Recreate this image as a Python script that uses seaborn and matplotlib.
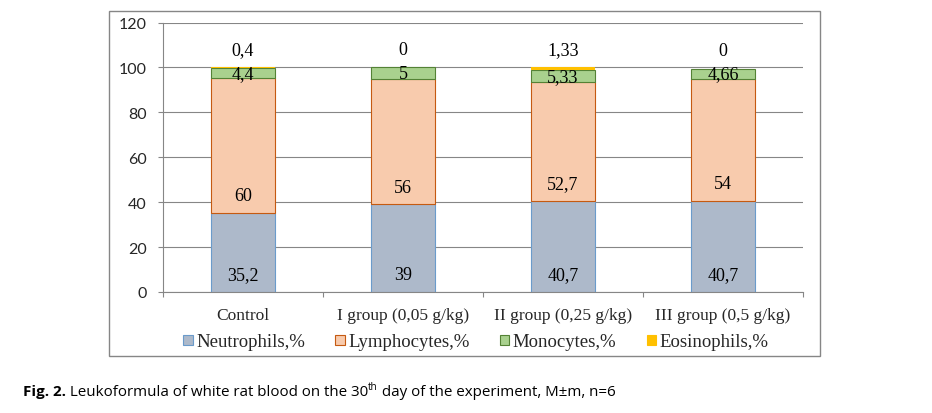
import matplotlib
matplotlib.use("Agg")
import matplotlib.pyplot as plt
import seaborn as sns
from matplotlib.patches import Patch, Rectangle

categories = ["Control", "I group (0,05 g/kg)", "II group (0,25 g/kg)", "III group (0,5 g/kg)"]
neutrophils = [35.2, 39, 40.7, 40.7]
lymphocytes = [60, 56, 52.7, 54]
monocytes = [4.4, 5, 5.33, 4.66]
eosinophils = [0.4, 0, 1.33, 0]
series_names = ["Neutrophils,%", "Lymphocytes,%", "Monocytes,%", "Eosinophils,%"]
y_ticks = [0, 20, 40, 60, 80, 100, 120]

sns.set_theme(style="white")
plt.rcParams["font.family"] = ["Liberation Serif", "DejaVu Serif"]

W, H = 932, 414
fig = plt.figure(figsize=(W / 100, H / 100), dpi=100)
ax = fig.add_axes([163 / W, 1 - 293 / H, 640 / W, (293 - 23.5) / H])

styles = [
    ("#ADB9CA", "#6A9BCB", 0.8),
    ("#F8CBAD", "#C55A11", 0.8),
    ("#A9D18E", "#548235", 0.8),
    ("#FFC000", "#FFC000", 0.0),
]
data = [neutrophils, lymphocytes, monocytes, eosinophils]

def fmt(v):
    return f"{v:g}".replace(".", ",")

bottoms = [0.0] * len(categories)
for vals, (fc, ec, lw) in zip(data, styles):
    n0 = len(ax.patches)
    sns.barplot(x=categories, y=vals, order=categories, color=fc, saturation=1,
                width=0.4, edgecolor=ec, linewidth=lw, errorbar=None, ax=ax)
    for p, b in zip(ax.patches[n0:], bottoms):
        p.set_y(b)
    bottoms = [b + v for b, v in zip(bottoms, vals)]

fs = 13
for i in range(4):
    ax.annotate(fmt(neutrophils[i]), xy=(i, 0), xytext=(0, 12.5), textcoords="offset points",
                ha="center", va="center", fontsize=fs, color="black")
    ax.annotate(fmt(lymphocytes[i]), xy=(i, neutrophils[i]), xytext=(0, 12.5), textcoords="offset points",
                ha="center", va="center", fontsize=fs, color="black")
    mb = neutrophils[i] + lymphocytes[i]
    ax.annotate(fmt(monocytes[i]), xy=(i, mb + monocytes[i] / 2), xytext=(0, 0), textcoords="offset points",
                ha="center", va="center", fontsize=fs, color="black")
    top = mb + monocytes[i] + eosinophils[i]
    ax.annotate(fmt(eosinophils[i]), xy=(i, top), xytext=(0, 13), textcoords="offset points",
                ha="center", va="center", fontsize=fs, color="black")

ax.set_ylim(0, 120)
ax.set_xlim(-0.5, 3.5)
ax.set_yticks(y_ticks)
ax.set_yticklabels([str(t) for t in y_ticks], fontfamily=["Lato", "DejaVu Sans"], fontsize=11.5)
ax.set_xticks(range(4))
ax.set_xticklabels(categories, fontsize=12.5)
ax.set_xticks([-0.5, 0.5, 1.5, 2.5, 3.5], minor=True)
ax.set_xlabel("")
ax.set_ylabel("")
ax.tick_params(axis="x", which="major", length=0, pad=11, bottom=True)
ax.tick_params(axis="x", which="minor", length=3.8, width=0.8, color="#868686", bottom=True)
ax.tick_params(axis="y", length=3.8, width=0.8, color="#868686", pad=8, left=True)
ax.yaxis.grid(True, color="#868686", linewidth=0.8)
ax.xaxis.grid(False)
ax.set_axisbelow(True)
for s in ["top", "right"]:
    ax.spines[s].set_visible(False)
for s in ["left", "bottom"]:
    ax.spines[s].set_color("#868686")
    ax.spines[s].set_linewidth(0.8)

handles = [Patch(facecolor=fc, edgecolor=ec, linewidth=0.8) for fc, ec, _ in styles]
fig.legend(handles, series_names, loc="center", bbox_to_anchor=(476 / W, 1 - 343 / H), ncol=4,
           frameon=False, fontsize=13.5, handlelength=0.5, handleheight=0.5, handletextpad=0.2,
           columnspacing=1.6, borderaxespad=0)

fig.add_artist(Rectangle((109 / W, 1 - 357 / H), (820 - 109) / W, (357 - 12) / H,
                         transform=fig.transFigure, fill=False, edgecolor="#868686", linewidth=1))

# caption
renderer = fig.canvas.get_renderer()
cap_font = ["Open Sans", "DejaVu Sans"]
cfs = 10.9
x = 23 / W
yb = 1 - 396 / H
pieces = [("Fig. 2.", "bold", cfs, 0), (" Leukoformula of white rat blood on the 30", "normal", cfs, 0),
          ("th", "normal", cfs * 0.65, 5.5), (" day of the experiment, M\u00b1m, n=6", "normal", cfs, 0)]
for txt, wt, sz, rise in pieces:
    t = fig.text(x, yb + rise / H, txt, fontfamily=cap_font, fontweight=wt, fontsize=sz,
                 ha="left", va="baseline", color="black")
    bb = t.get_window_extent(renderer)
    x += bb.width / W

fig.savefig("out.png", dpi=100)
